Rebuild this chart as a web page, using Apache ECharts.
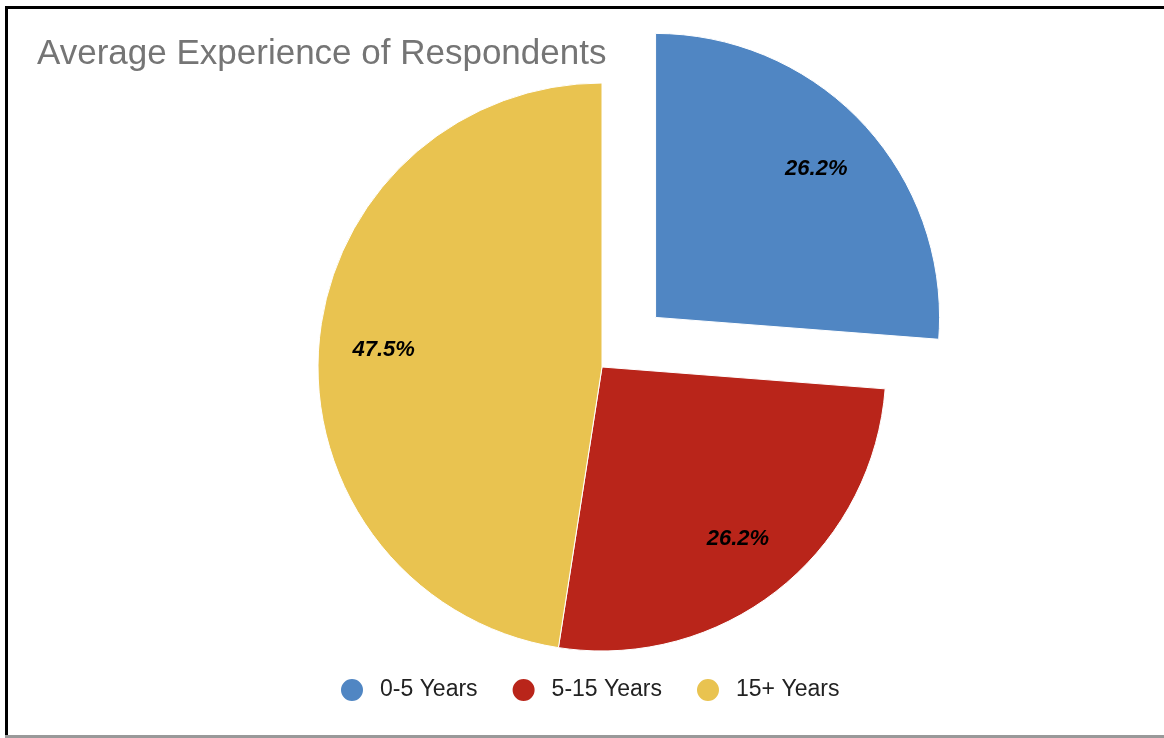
<!DOCTYPE html>
<html>
<head>
<meta charset="utf-8">
<script src="https://cdn.jsdelivr.net/npm/echarts@6/dist/echarts.min.js"></script>
<style>
  html, body { margin: 0; padding: 0; background: #fff; overflow: hidden; }
  #chart { position: absolute; left: 0; top: 0; width: 1164px; height: 738px; }
  .frame { position: absolute; pointer-events: none; }
  #frameTop { left: 5px; top: 6px; width: 1159px; height: 3px; background: #000; }
  #frameLeft { left: 5px; top: 6px; width: 3px; height: 732px; background: #000; }
  #frameBottom { left: 5px; top: 735px; width: 1159px; height: 3px; background: #999; }
</style>
</head>
<body>
<div id="chart"></div>
<div class="frame" id="frameTop"></div>
<div class="frame" id="frameLeft"></div>
<div class="frame" id="frameBottom"></div>
<script>
const titleText = 'Average Experience of Respondents';
const categories = ['0-5 Years', '5-15 Years', '15+ Years'];
const shares = [26.2, 26.2, 47.5];
const colors = ['#5086C3', '#B9251A', '#E9C350'];
const explodedIndex = 0;

const center = [602, 367];
const outerR = 284;

const pieData = categories.map((name, i) => ({
  name: name,
  value: shares[i],
  selected: i === explodedIndex,
  itemStyle: { color: colors[i] }
}));

const labelData = categories.map((name, i) => ({
  name: name,
  value: shares[i],
  selected: i === explodedIndex
}));

const chart = echarts.init(document.getElementById('chart'));
chart.setOption({
  animation: false,
  title: {
    text: titleText,
    left: 32,
    top: 32,
    textStyle: {
      fontFamily: 'Liberation Sans, Arial, sans-serif',
      fontSize: 35,
      fontWeight: 'normal',
      color: '#757575'
    }
  },
  legend: {
    data: categories,
    bottom: 30,
    left: 334,
    icon: 'circle',
    itemWidth: 24,
    itemHeight: 24,
    itemGap: 33,
    selectedMode: false,
    textStyle: {
      fontFamily: 'Liberation Sans, Arial, sans-serif',
      fontSize: 23,
      color: '#222',
      padding: [0, 0, 0, 11]
    }
  },
  series: [
    {
      type: 'pie',
      center: center,
      radius: outerR,
      startAngle: 90,
      clockwise: true,
      selectedMode: 'single',
      selectedOffset: 73,
      silent: true,
      itemStyle: { borderColor: '#fff', borderWidth: 1 },
      label: { show: false },
      labelLine: { show: false },
      emphasis: { disabled: true },
      data: pieData
    },
    {
      // transparent ring that carries the percentage labels
      type: 'pie',
      center: center,
      radius: [148, outerR],
      startAngle: 90,
      clockwise: true,
      selectedMode: 'single',
      selectedOffset: 73,
      silent: true,
      itemStyle: { color: 'rgba(0,0,0,0)', borderWidth: 0 },
      label: {
        show: true,
        position: 'inside',
        formatter: p => p.value.toFixed(1) + '%',
        fontFamily: 'Liberation Sans, Arial, sans-serif',
        fontSize: 22,
        fontWeight: 'bold',
        fontStyle: 'italic',
        color: '#000'
      },
      labelLine: { show: false },
      emphasis: { disabled: true },
      data: labelData
    }
  ]
});
</script>
</body>
</html>
